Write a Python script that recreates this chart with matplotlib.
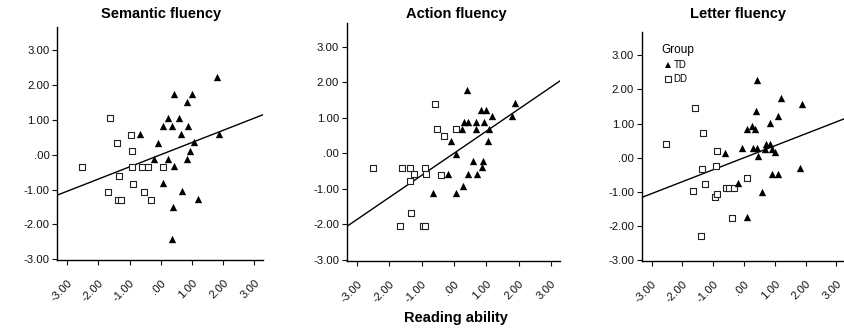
import numpy as np
import matplotlib
matplotlib.use('Agg')
import matplotlib.pyplot as plt
from matplotlib.lines import Line2D

plt.rcParams['font.family'] = ['Liberation Sans', 'DejaVu Sans']

# semantic fluency
sem_dd_x = [-2.52, -1.62, -1.40, -1.35, -1.68, -1.37, -1.26, -0.94, -0.93, -0.91, -0.89, -0.60, -0.41, -0.53, -0.32, 0.08]
sem_dd_y = [-0.36, 1.04, 0.33, -0.60, -1.07, -1.30, -1.30, 0.56, 0.10, -0.36, -0.83, -0.36, -0.36, -1.07, -1.30, -0.36]
sem_td_x = [-0.65, -0.10, -0.23, 0.06, 0.06, 0.24, 0.35, 0.24, 0.41, 0.39, 0.35, 0.44, 0.58, 0.66, 0.69, 0.84,
            0.87, 0.85, 0.94, 1.01, 1.06, 1.19, 1.81, 1.86]
sem_td_y = [0.59, 0.33, -0.11, -0.81, 0.83, 1.05, 0.83, -0.11, -0.33, -1.50, -2.43, 1.75, 1.05, 0.59, -1.05, 1.52,
            0.83, -0.11, 0.12, 1.75, 0.35, -1.27, 2.22, 0.59]

# action fluency
act_dd_x = [-2.52, -1.62, -1.36, -1.35, -1.23, -0.89, -0.88, -1.32, -1.66, -0.95, -0.89, -0.59, -0.52, -0.32, -0.40, 0.07]
act_dd_y = [-0.41, -0.41, -0.41, -0.77, -0.59, -0.41, -0.59, -1.68, -2.05, -2.05, -2.05, 1.39, 0.68, 0.48, -0.60, 0.68]
act_td_x = [0.39, 0.85, 1.00, 1.19, 0.32, 0.42, 0.69, 0.94, 0.26, 0.67, 1.08, -0.09, 1.06, 0.07, 0.58, 0.89,
            0.86, -0.20, 0.43, 0.70, 0.27, -0.64, 0.06, 1.78, 1.88]
act_td_y = [1.77, 1.23, 1.23, 1.04, 0.87, 0.87, 0.87, 0.87, 0.68, 0.68, 0.68, 0.34, 0.34, -0.03, -0.21, -0.21,
            -0.39, -0.58, -0.58, -0.58, -0.93, -1.12, -1.12, 1.04, 1.41]

# letter fluency
let_dd_x = [-2.53, -1.60, -1.33, -0.89, -1.35, -0.91, -1.25, -1.66, -0.94, -0.87, -0.57, -0.48, -0.31, 0.09, -0.39, -1.38]
let_dd_y = [0.39, 1.46, 0.73, 0.19, -0.33, -0.23, -0.78, -0.96, -1.14, -1.05, -0.87, -0.87, -0.87, -0.60, -1.76, -2.30]
let_td_x = [0.42, 1.20, 1.88, 0.38, 1.11, 0.86, 0.11, 0.27, 0.35, -0.07, 0.29, 0.43, 0.70, 0.86, 0.68, 0.91,
            0.46, 1.00, -0.63, -0.18, 0.60, 0.90, 1.09, 1.82, 0.09]
let_td_y = [2.28, 1.74, 1.57, 1.37, 1.23, 1.03, 0.84, 0.93, 0.84, 0.30, 0.30, 0.30, 0.40, 0.40, 0.25, 0.27,
            0.04, 0.16, 0.14, -0.75, -1.01, -0.48, -0.48, -0.31, -1.74]

titles = ['Semantic fluency', 'Action fluency', 'Letter fluency']
slopes = [0.35, 0.62, 0.35]
intercepts = [0.0, 0.0, 0.0]
tick_vals = [-3, -2, -1, 0, 1, 2, 3]
tick_labels = ['-3.00', '-2.00', '-1.00', '.00', '1.00', '2.00', '3.00']

panels = [(sem_dd_x, sem_dd_y, sem_td_x, sem_td_y),
          (act_dd_x, act_dd_y, act_td_x, act_td_y),
          (let_dd_x, let_dd_y, let_td_x, let_td_y)]

fig = plt.figure(figsize=(8.45, 3.36), dpi=100)
rects = [[0.0675, 0.2262, 0.2440, 0.6943],
         [0.4103, 0.2241, 0.2524, 0.7083],
         [0.7594, 0.2232, 0.2406, 0.6807]]
title_x = [0.191, 0.540, 0.873]

for i, (dx, dy, tx, ty) in enumerate(panels):
    ax = fig.add_axes(rects[i])
    ax.set_xlim(-3.32, 3.28)
    ax.set_ylim(-3.02, 3.67)
    ax.axline((0, intercepts[i]), slope=slopes[i], color='black', lw=1.0, zorder=1)
    ax.scatter(tx, ty, marker='^', s=28, color='black', linewidths=0, zorder=3)
    ax.scatter(dx, dy, marker='s', s=22, facecolors='white', edgecolors='#222222', linewidths=0.8, zorder=2)
    for s in ['top', 'right']:
        ax.spines[s].set_visible(False)
    for s in ['left', 'bottom']:
        ax.spines[s].set_linewidth(1.0)
    ax.set_xticks(tick_vals)
    ax.set_xticklabels(tick_labels, rotation=45, ha='right', va='top', rotation_mode='anchor')
    ax.set_yticks(tick_vals)
    ax.set_yticklabels(tick_labels)
    ax.tick_params(axis='both', direction='out', length=3.5, width=0.8, labelsize=8.2, colors='#111111', pad=2)
    ax.tick_params(axis='x', pad=9.5)
    fig.text(title_x[i], 0.958, titles[i], ha='center', va='center', fontsize=10.5, fontweight='bold')

    if i == 2:
        handles = [Line2D([], [], marker='^', ls='none', color='black', markersize=4.5, markeredgewidth=0),
                   Line2D([], [], marker='s', ls='none', markerfacecolor='white', markeredgecolor='#222222',
                          markersize=4.3, markeredgewidth=0.8)]
        leg = ax.legend(handles, ['TD', 'DD'], title='Group', loc='upper left', bbox_to_anchor=(0.095, 0.948),
                        frameon=False, fontsize=7, title_fontsize=8.5, handlelength=1.5, handletextpad=-0.2,
                        labelspacing=0.4, borderaxespad=0, borderpad=0, alignment='left')

fig.text(0.539, 0.054, 'Reading ability', ha='center', va='center', fontsize=10.5, fontweight='bold')

plt.savefig('out.png', dpi=100)
